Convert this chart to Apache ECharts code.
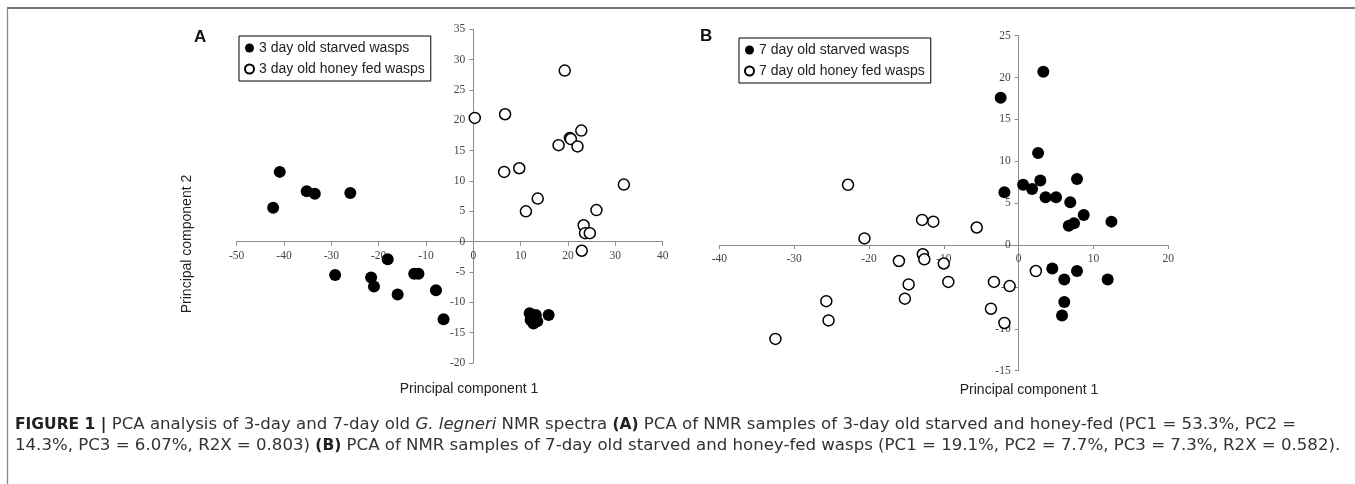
<!DOCTYPE html>
<html>
<head>
<meta charset="utf-8">
<script src="https://cdn.jsdelivr.net/npm/echarts@6/dist/echarts.min.js"></script>
<style>
  html, body { margin: 0; padding: 0; background: #fff; }
  #main { width: 1355px; height: 484px; }
</style>
</head>
<body>
<div id="main"></div>
<script>
// panel A: 3 day old wasps
var starvedA = [[-40.9, 11.5], [-35.2, 8.3], [-33.5, 7.9], [-26.0, 8.0], [-42.3, 5.6],
  [-29.2, -5.5], [-21.6, -5.9], [-21.0, -7.4], [-18.1, -2.9], [-16.0, -8.7],
  [-12.5, -5.3], [-11.6, -5.3], [-7.9, -8.0], [-6.3, -12.8], [11.9, -11.8],
  [13.2, -12.1], [12.1, -12.9], [12.7, -13.5], [13.5, -13.1], [12.5, -12.4], [15.9, -12.1]];
var honeyA = [[0.3, 20.4], [6.7, 21.0], [19.3, 28.2], [18.0, 15.9], [20.4, 17.1],
  [20.6, 16.9], [22.8, 18.3], [22.0, 15.7], [6.5, 11.5], [9.7, 12.1], [31.8, 9.4],
  [11.1, 5.0], [13.6, 7.1], [26.0, 5.2], [23.3, 2.7], [23.6, 1.4], [24.6, 1.4], [22.9, -1.5]];

// panel B: 7 day old wasps
var starvedB = [[3.3, 20.7], [-2.4, 17.6], [2.6, 11.0], [7.8, 7.9], [2.9, 7.7],
  [0.6, 7.2], [1.8, 6.7], [-1.9, 6.3], [3.6, 5.7], [5.0, 5.7], [6.9, 5.1],
  [8.7, 3.6], [6.7, 2.3], [7.4, 2.6], [12.4, 2.8], [4.5, -2.8], [7.8, -3.1],
  [6.1, -4.1], [11.9, -4.1], [6.1, -6.8], [5.8, -8.4]];
var honeyB = [[-22.8, 7.2], [-12.9, 3.0], [-11.4, 2.8], [-5.6, 2.1], [-20.6, 0.8],
  [-12.8, -1.1], [-12.6, -1.7], [-16.0, -1.9], [-10.0, -2.2], [2.3, -3.1],
  [-14.7, -4.7], [-9.4, -4.4], [-3.3, -4.4], [-1.2, -4.9], [-15.2, -6.4],
  [-3.7, -7.6], [-1.9, -9.3], [-25.7, -6.7], [-25.4, -9.0], [-32.5, -11.2]];

// axis ranges [min, max, interval]
var xRangeA = [-50, 40, 10];
var yRangeA = [-20, 35, 5];
var xRangeB = [-40, 20, 10];
var yRangeB = [-15, 25, 5];

var legendA = ['3 day old starved wasps', '3 day old honey fed wasps'];
var legendB = ['7 day old starved wasps', '7 day old honey fed wasps'];

var gridA = { left: 236.7, top: 29.3, width: 426, height: 333.7 };
var gridB = { left: 719.3, top: 35.7, width: 449, height: 335 };

var chart = echarts.init(document.getElementById('main'));

// axes cross at zero: shift each axis (line + labels) to where the other axis is 0
function valueAxis(range, idx, crossRange, span, isX) {
  var shift = span * (0 - crossRange[0]) / (crossRange[1] - crossRange[0]);
  return {
    type: 'value',
    gridIndex: idx,
    min: range[0],
    max: range[1],
    interval: range[2],
    position: isX ? 'bottom' : 'left',
    offset: -shift,
    splitLine: { show: false },
    axisLine: { onZero: false, lineStyle: { color: '#8c8c8c', width: 1 } },
    axisTick: { show: true, length: 4, lineStyle: { color: '#8c8c8c' } },
    axisLabel: { fontFamily: 'Liberation Serif', fontSize: 11.5, color: '#444', margin: 8 }
  };
}

var filled = { color: '#000', opacity: 1 };
var hollow = { color: '#fff', borderColor: '#000', borderWidth: 1.5, opacity: 1 };

var sans = 'Liberation Sans';

function legendBox(names, left, top) {
  return {
    data: names,
    orient: 'vertical',
    left: left,
    top: top,
    padding: [5, 6, 5, 5],
    itemGap: 7,
    itemWidth: 9,
    itemHeight: 9,
    borderColor: '#000',
    borderWidth: 1,
    textStyle: { fontFamily: sans, fontSize: 14, color: '#222', lineHeight: 14 }
  };
}

var option = {
  backgroundColor: '#fff',
  animation: false,
  grid: [gridA, gridB],
  xAxis: [
    valueAxis(xRangeA, 0, yRangeA, gridA.height, true),
    valueAxis(xRangeB, 1, yRangeB, gridB.height, true)
  ],
  yAxis: [
    valueAxis(yRangeA, 0, xRangeA, gridA.width, false),
    valueAxis(yRangeB, 1, xRangeB, gridB.width, false)
  ],
  legend: [legendBox(legendA, 239, 36), legendBox(legendB, 739, 38)],
  series: [
    { name: legendA[0], type: 'scatter', xAxisIndex: 0, yAxisIndex: 0, data: starvedA, symbolSize: 12, itemStyle: filled },
    { name: legendA[1], type: 'scatter', xAxisIndex: 0, yAxisIndex: 0, data: honeyA, symbolSize: 11, itemStyle: hollow },
    { name: legendB[0], type: 'scatter', xAxisIndex: 1, yAxisIndex: 1, data: starvedB, symbolSize: 12, itemStyle: filled },
    { name: legendB[1], type: 'scatter', xAxisIndex: 1, yAxisIndex: 1, data: honeyB, symbolSize: 11, itemStyle: hollow }
  ],
  graphic: [
    // figure frame
    { type: 'line', shape: { x1: 7, y1: 8, x2: 1355, y2: 8 }, style: { stroke: '#4a4a4a', lineWidth: 1.5 } },
    { type: 'line', shape: { x1: 7.5, y1: 8, x2: 7.5, y2: 484 }, style: { stroke: '#8a8a8a', lineWidth: 1.3 } },
    // panel letters
    { type: 'text', left: 194, top: 29, style: { text: 'A', font: 'bold 17px ' + sans, fill: '#111' } },
    { type: 'text', left: 700, top: 28, style: { text: 'B', font: 'bold 17px ' + sans, fill: '#111' } },
    // axis titles
    { type: 'text', x: 469, y: 389, style: { text: 'Principal component 1', font: '14px ' + sans, fill: '#222', align: 'center', verticalAlign: 'middle' } },
    { type: 'text', x: 1029, y: 390, style: { text: 'Principal component 1', font: '14px ' + sans, fill: '#222', align: 'center', verticalAlign: 'middle' } },
    { type: 'text', x: 187, y: 244, rotation: Math.PI / 2, style: { text: 'Principal component 2', font: '14px ' + sans, fill: '#222', align: 'center', verticalAlign: 'middle' } },
    // caption
    {
      type: 'text', left: 15, top: 414,
      style: {
        text: '{b|FIGURE 1 |} PCA analysis of 3-day and 7-day old {i|G. legneri} NMR spectra {b|(A)} PCA of NMR samples of 3-day old starved and honey-fed (PC1 = 53.3%, PC2 =\n' +
              '14.3%, PC3 = 6.07%, R2X = 0.803) {b|(B)} PCA of NMR samples of 7-day old starved and honey-fed wasps (PC1 = 19.1%, PC2 = 7.7%, PC3 = 7.3%, R2X = 0.582).',
        font: '16.6px DejaVu Sans',
        fill: '#333',
        lineHeight: 21,
        rich: {
          b: { fontFamily: 'DejaVu Sans', fontSize: 15.5, fontWeight: 'bold', fill: '#222', lineHeight: 21 },
          i: { fontFamily: 'DejaVu Sans', fontSize: 16.6, fontStyle: 'italic', fill: '#333', lineHeight: 21 }
        }
      }
    }
  ]
};

chart.setOption(option);
</script>
</body>
</html>
